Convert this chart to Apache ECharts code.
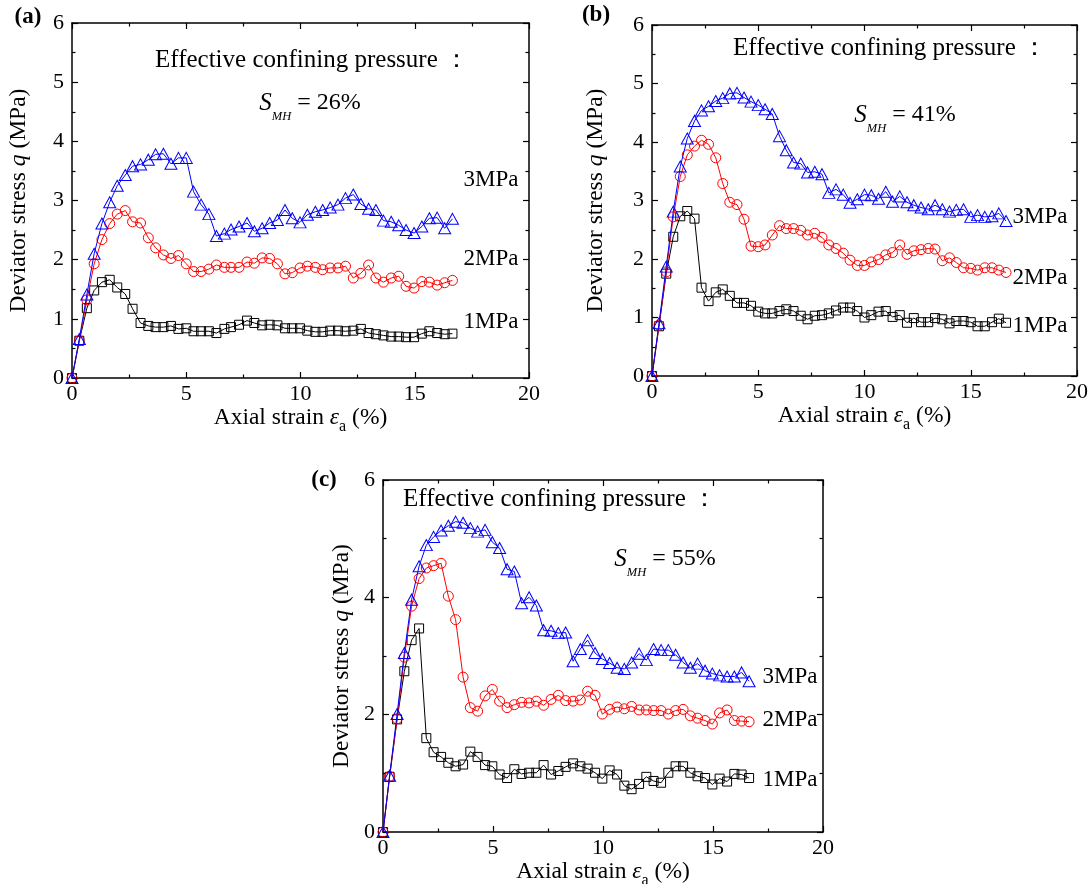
<!DOCTYPE html>
<html><head><meta charset="utf-8">
<script src="https://cdn.jsdelivr.net/npm/echarts@6/dist/echarts.min.js"></script>
<style>html,body{margin:0;padding:0;background:#fff}#c{width:1091px;height:884px}</style>
</head><body><div id="c"></div>
<script>
// ---------- data ----------
const xA = [0,0.32,0.65,0.97,1.31,1.65,1.98,2.33,2.65,3.0,3.34,3.66,4.0,4.33,4.66,5.0,5.32,5.65,5.99,6.32,6.67,6.96,7.31,7.66,7.98,8.32,8.65,8.99,9.32,9.64,9.98,10.3,10.65,10.97,11.3,11.64,11.97,12.31,12.64,12.98,13.3,13.63,13.97,14.3,14.62,14.97,15.31,15.64,15.98,16.31,16.65];
const a3MPa = [0,0.66,1.41,2.10,2.61,2.97,3.25,3.43,3.58,3.61,3.69,3.78,3.79,3.62,3.72,3.72,3.15,2.93,2.77,2.40,2.44,2.51,2.56,2.62,2.48,2.53,2.62,2.67,2.84,2.70,2.63,2.76,2.81,2.84,2.88,2.93,3.04,3.10,2.94,2.86,2.84,2.66,2.64,2.58,2.50,2.45,2.56,2.70,2.71,2.53,2.69];
const a2MPa = [0,0.63,1.32,1.93,2.34,2.61,2.77,2.83,2.64,2.62,2.37,2.20,2.08,2.02,2.07,1.93,1.80,1.80,1.84,1.91,1.87,1.87,1.87,1.96,1.94,2.03,2.02,1.93,1.76,1.78,1.86,1.89,1.87,1.83,1.86,1.86,1.89,1.69,1.77,1.91,1.69,1.62,1.69,1.72,1.55,1.52,1.63,1.62,1.57,1.61,1.65];
const a1MPa = [0,0.63,1.18,1.48,1.62,1.66,1.53,1.42,1.17,0.93,0.88,0.86,0.86,0.88,0.83,0.84,0.79,0.79,0.79,0.76,0.83,0.86,0.90,0.97,0.93,0.89,0.90,0.89,0.84,0.84,0.84,0.80,0.78,0.78,0.80,0.80,0.79,0.80,0.83,0.76,0.74,0.72,0.70,0.70,0.69,0.69,0.75,0.79,0.76,0.74,0.75];

const xB = [0,0.33,0.67,1.0,1.33,1.66,2.0,2.33,2.66,3.0,3.33,3.66,4.0,4.33,4.66,5.0,5.32,5.66,6.0,6.32,6.66,7.0,7.32,7.66,8.0,8.32,8.66,9.0,9.32,9.66,10.0,10.32,10.66,11.0,11.32,11.66,12.0,12.32,12.66,13.0,13.32,13.66,14.0,14.32,14.66,15.0,15.32,15.66,16.0,16.32,16.66];
const b3MPa = [0,0.90,1.87,2.81,3.58,4.06,4.36,4.54,4.61,4.70,4.75,4.83,4.84,4.76,4.69,4.63,4.56,4.48,4.10,3.86,3.65,3.63,3.48,3.49,3.45,3.13,3.19,3.10,2.96,3.02,3.10,3.09,3.03,3.15,2.98,3.07,2.97,2.92,2.88,2.85,2.92,2.85,2.81,2.84,2.85,2.72,2.75,2.72,2.73,2.78,2.65];
const b2MPa = [0,0.87,1.78,2.72,3.41,3.78,3.93,4.03,3.96,3.73,3.29,2.97,2.93,2.68,2.22,2.21,2.24,2.41,2.57,2.52,2.52,2.49,2.41,2.44,2.37,2.24,2.18,2.10,1.98,1.89,1.89,1.95,1.99,2.07,2.11,2.24,2.08,2.14,2.16,2.18,2.17,1.97,2.02,1.94,1.85,1.84,1.81,1.85,1.85,1.81,1.77];
const b1MPa = [0,0.85,1.75,2.38,2.73,2.82,2.69,1.51,1.28,1.43,1.48,1.37,1.25,1.25,1.20,1.10,1.07,1.07,1.11,1.14,1.11,1.03,0.97,1.03,1.04,1.07,1.12,1.17,1.17,1.11,1.00,1.04,1.10,1.11,1.01,1.04,0.91,0.99,0.92,0.92,0.99,0.97,0.90,0.94,0.94,0.92,0.85,0.85,0.92,0.98,0.91];

const xC = [0,0.30,0.64,0.97,1.30,1.64,1.97,2.30,2.64,2.97,3.30,3.64,3.97,4.30,4.64,4.97,5.30,5.64,5.97,6.30,6.64,6.97,7.30,7.64,7.97,8.30,8.64,8.97,9.30,9.64,9.97,10.30,10.64,10.97,11.30,11.64,11.97,12.30,12.64,12.97,13.30,13.64,13.97,14.30,14.64,14.97,15.30,15.64,15.97,16.30,16.64];
const c3MPa = [0,0.96,2.01,3.05,3.96,4.53,4.89,5.03,5.14,5.22,5.29,5.27,5.18,5.12,5.15,4.94,4.84,4.48,4.44,3.90,4.00,3.86,3.44,3.43,3.39,3.40,2.91,3.12,3.27,3.05,2.95,2.88,2.80,2.78,2.89,3.04,2.93,3.12,3.10,3.10,3.02,2.89,2.80,2.87,2.75,2.70,2.67,2.65,2.65,2.72,2.57];
const c2MPa = [0,0.95,1.93,2.98,3.85,4.32,4.50,4.54,4.58,4.02,3.62,2.64,2.12,2.06,2.32,2.43,2.23,2.12,2.17,2.21,2.20,2.23,2.16,2.26,2.33,2.24,2.23,2.25,2.40,2.33,2.01,2.09,2.13,2.10,2.14,2.08,2.08,2.07,2.07,2.01,2.07,2.09,1.98,1.94,1.90,1.84,2.03,2.08,1.90,1.89,1.88];
const c1MPa = [0,0.94,1.92,2.74,3.27,3.47,1.60,1.36,1.28,1.18,1.12,1.15,1.37,1.28,1.14,1.12,0.98,0.92,1.07,0.99,1.01,1.01,1.14,0.98,1.04,1.11,1.17,1.12,1.08,1.01,0.91,1.05,0.98,0.79,0.73,0.82,0.94,0.87,0.84,1.01,1.12,1.12,1.01,0.95,0.92,0.81,0.91,0.86,0.99,0.98,0.92];

const panelLabels = ['(a)','(b)','(c)'];
const smhValues = ['26%','41%','55%'];
const pressureLabels = ['3MPa','2MPa','1MPa'];
const yTickInterval = [1,1,2];

// ---------- layout / style ----------
const FONT = '"Liberation Serif","Times New Roman",serif';
const grids = [
  {left:72, top:23, width:457, height:355, outerBoundsMode:'none', containLabel:false},
  {left:652, top:25, width:425, height:351, outerBoundsMode:'none', containLabel:false},
  {left:383, top:480, width:440, height:352, outerBoundsMode:'none', containLabel:false}
];
const yNameGap = [41,44,29];
const lineAx = {onZero:false, lineStyle:{color:'#000', width:1.5}};
const tickAx = {inside:true, length:6, lineStyle:{color:'#000', width:1.2}};
const minorAx = {show:true, splitNumber:2, length:3.5, lineStyle:{color:'#000', width:1.2}};
const labAx = {color:'#000', fontFamily:FONT, fontSize:22};
const richT = {
  t:{fontFamily:FONT, fontSize:23.5, color:'#000', verticalAlign:'top'},
  i:{fontFamily:FONT, fontSize:23.5, color:'#000', fontStyle:'italic', verticalAlign:'top'},
  s:{fontFamily:FONT, fontSize:16, color:'#000', verticalAlign:'top', padding:[13,0,0,0]}
};

const xAxis = [], yAxis = [];
grids.forEach((g, gi) => {
  xAxis.push({type:'value', gridIndex:gi, min:0, max:20, interval:5, position:'bottom',
    axisLine:lineAx, axisTick:tickAx, minorTick:minorAx, splitLine:{show:false},
    axisLabel:Object.assign({margin:5}, labAx),
    name:'{t|Axial strain }{i|ε}{s|a}{t| (%)}', nameLocation:'middle', nameGap:24,
    nameTextStyle:{rich:richT}});
  xAxis.push({type:'value', gridIndex:gi, min:0, max:20, interval:5, position:'top',
    axisLine:lineAx, axisTick:tickAx, minorTick:minorAx, splitLine:{show:false},
    axisLabel:{show:false}});
  yAxis.push({type:'value', gridIndex:gi, min:0, max:6, interval:yTickInterval[gi], position:'left',
    axisLine:lineAx, axisTick:tickAx, minorTick:minorAx, splitLine:{show:false},
    axisLabel:Object.assign({margin:8}, labAx),
    name:'{t|Deviator stress }{i|q}{t| (MPa)}', nameLocation:'middle', nameGap:yNameGap[gi],
    nameTextStyle:{rich:richT}});
  yAxis.push({type:'value', gridIndex:gi, min:0, max:6, interval:yTickInterval[gi], position:'right',
    axisLine:lineAx, axisTick:tickAx, minorTick:minorAx, splitLine:{show:false},
    axisLabel:{show:false}});
});

const panels = [
  {x:xA, s:[a1MPa,a2MPa,a3MPa]},
  {x:xB, s:[b1MPa,b2MPa,b3MPa]},
  {x:xC, s:[c1MPa,c2MPa,c3MPa]}
];
const styles = [
  {color:'#000000', symbol:'rect', size:9},
  {color:'#ff0000', symbol:'circle', size:10},
  {color:'#0000ff', symbol:'triangle', size:[12,11]}
];
const series = [];
panels.forEach((p, pi) => {
  p.s.forEach((ys, si) => {
    const st = styles[si];
    series.push({type:'line', xAxisIndex:pi*2, yAxisIndex:pi*2, silent:true,
      data: p.x.map((v,i)=>[v, ys[i]]),
      symbol:st.symbol, symbolSize:st.size, showAllSymbol:true,
      itemStyle:{color:'rgba(255,255,255,0)', borderColor:st.color, borderWidth:1},
      lineStyle:{color:st.color, width:1}, z:2+si});
  });
});

// ---------- annotations ----------
function txt(x, y, text, extra) {
  return {type:'text', x:x, y:y, silent:true, style:Object.assign({text:text, fill:'#000',
    font:'22px ' + FONT, align:'center', verticalAlign:'middle'}, extra||{})};
}
const richSMH = {
  s:{fontFamily:FONT, fontSize:25, fontStyle:'italic', color:'#000', verticalAlign:'top'},
  m:{fontFamily:FONT, fontSize:12.5, fontStyle:'italic', color:'#000', verticalAlign:'top', padding:[19,0,0,0]},
  n:{fontFamily:FONT, fontSize:24, color:'#000', verticalAlign:'top'}
};
const labelPos = [
  {p:[28,17], e:[312,60], smh:[310,107], mpa:[[491,180],[491,259],[491,322]]},
  {p:[596,15], e:[890,48], smh:[905,119], mpa:[[1040,217],[1040,278],[1040,326]]},
  {p:[324,480], e:[560,499], smh:[665,563], mpa:[[790,677],[790,720],[790,780]]}
];
const graphic = [];
labelPos.forEach((lp, i) => {
  graphic.push(txt(lp.p[0], lp.p[1], panelLabels[i], {font:'bold 23px ' + FONT}));
  graphic.push(txt(lp.e[0], lp.e[1], 'Effective confining pressure \uFF1A', {font:'25px ' + FONT}));
  graphic.push({type:'text', x:lp.smh[0], y:lp.smh[1], silent:true,
    style:{text:'{s|S}{m|MH}{n| = ' + smhValues[i] + '}', rich:richSMH, align:'center', verticalAlign:'middle'}});
  lp.mpa.forEach((pt, k) => graphic.push(txt(pt[0], pt[1], pressureLabels[k], {font:'23px ' + FONT})));
});

const chart = echarts.init(document.getElementById('c'), null, {renderer:'canvas'});
chart.setOption({
  animation:false,
  backgroundColor:'#ffffff',
  grid: grids,
  xAxis: xAxis,
  yAxis: yAxis,
  series: series,
  graphic: graphic
});
</script>
</body></html>
